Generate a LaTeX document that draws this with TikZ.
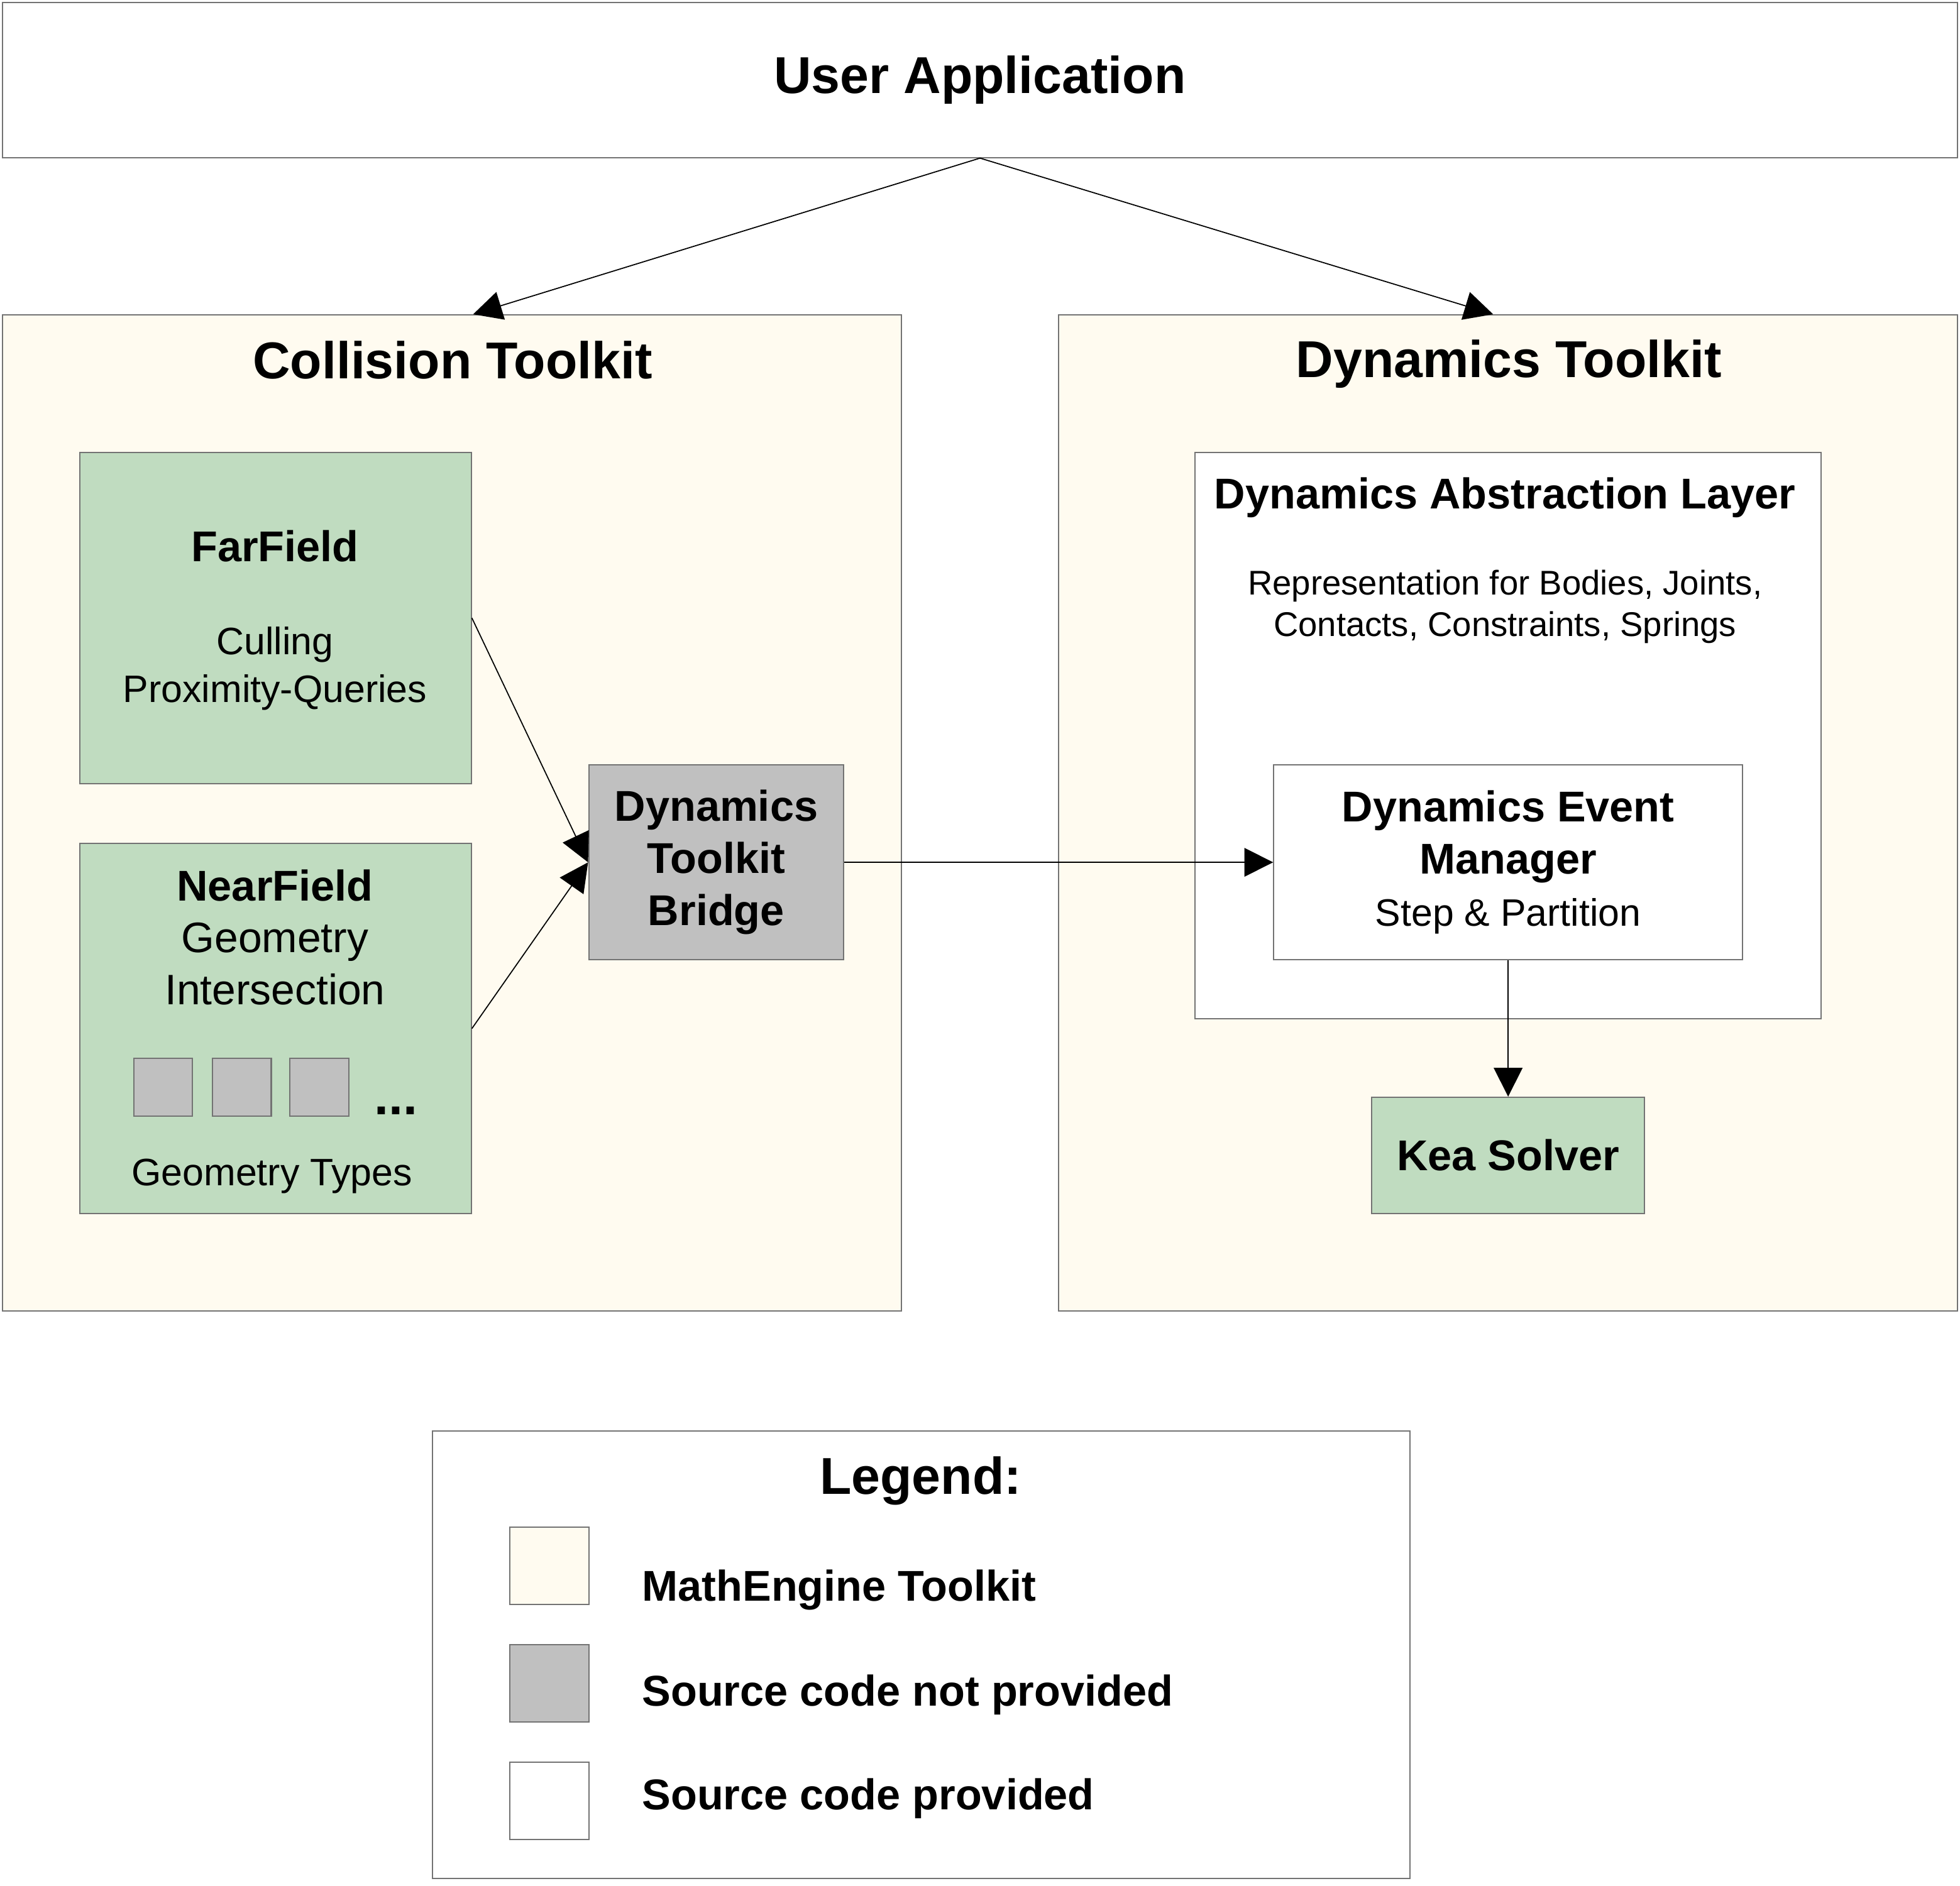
\documentclass[tikz,border=0pt]{standalone}
\usepackage{fontspec}
\setmainfont{Liberation Sans}
\usetikzlibrary{arrows.meta}
\definecolor{kitcream}{HTML}{FFFBF0}
\definecolor{modgreen}{HTML}{C0DCC0}
\definecolor{srcgray}{HTML}{C0C0C0}
\newcommand{\fTitle}{\fontsize{11.8}{14}\selectfont\bfseries}
\newcommand{\fHead}{\fontsize{9.8}{11.9}\selectfont\bfseries}
\newcommand{\fMid}{\normalfont\fontsize{9.7}{11.8}\selectfont}
\newcommand{\fBody}{\normalfont\fontsize{8.7}{10.8}\selectfont}
\newcommand{\fSmall}{\normalfont\fontsize{7.8}{9.4}\selectfont}
\tikzset{
  box/.style={draw=black!55, line width=0.3pt, inner sep=0pt},
  kitbox/.style={box, fill=kitcream},
  greenbox/.style={box, fill=modgreen},
  graybox/.style={box, fill=srcgray},
  whitebox/.style={box, fill=white},
  conn/.style={-{Triangle[length=2.3mm,width=2.3mm]}, line width=0.25pt}
}
\begin{document}
\begin{tikzpicture}
\useasboundingbox (0,0) rectangle (15.68,-15.09);
\node[whitebox, minimum width=15.64cm, minimum height=1.24cm, font=\fTitle] (user) at (7.84,-0.64) {User Application};

\node[kitbox, minimum width=7.19cm, minimum height=7.97cm] (coll) at (3.615,-6.505) {};
\node[font=\fTitle] (collT) at (3.62,-2.88) {Collision Toolkit};
\node[kitbox, minimum width=7.19cm, minimum height=7.97cm] (dyn) at (12.065,-6.505) {};
\node[font=\fTitle] (dynT) at (12.07,-2.91) {Dynamics Toolkit};

\node[greenbox, minimum width=3.13cm, minimum height=2.65cm] (far) at (2.205,-4.945) {};
\node[font=\fHead] (farT) at (2.2,-4.37) {FarField};
\node[font=\fBody, align=center] (farB) at (2.2,-5.35) {Culling\\Proximity-Queries};

\node[greenbox, minimum width=3.13cm, minimum height=2.96cm] (near) at (2.205,-8.23) {};
\node[font=\fMid, align=center] (nearT) at (2.2,-7.5) {{\fHead NearField}\\Geometry\\Intersection};
\foreach \x/\idx in {1.305/1,1.935/2,2.555/3}
  \node[graybox, minimum width=0.47cm, minimum height=0.46cm] (geo\idx) at (\x,-8.70) {};
\node[font=\fTitle, anchor=base west, inner sep=0pt] (geoDots) at (2.99,-8.92) {...};
\node[font=\fBody] (geoT) at (2.175,-9.41) {Geometry Types};

\node[graybox, minimum width=2.04cm, minimum height=1.56cm, font=\fHead, align=center] (bridge) at (5.73,-6.9) {Dynamics\\Toolkit\\Bridge};

\node[whitebox, minimum width=5.01cm, minimum height=4.53cm] (dal) at (12.065,-5.885) {};
\node[font=\fHead] (dalT) at (12.04,-3.98) {Dynamics Abstraction Layer};
\node[font=\fSmall, align=center] (dalB) at (12.04,-4.855) {Representation for Bodies, Joints,\\Contacts, Constraints, Springs};
\node[whitebox, minimum width=3.75cm, minimum height=1.56cm, font=\fHead, align=center] (mgr) at (12.065,-6.9) {Dynamics Event\\Manager\\{\fBody Step \& Partition}};
\node[greenbox, minimum width=2.18cm, minimum height=0.93cm, font=\fHead] (kea) at (12.065,-9.245) {Kea Solver};

\node[whitebox, minimum width=7.82cm, minimum height=3.58cm] (leg) at (7.37,-13.24) {};
\node[font=\fTitle] (legT) at (7.365,-11.85) {Legend:};
\foreach \y/\ty/\col/\lbl/\idx in {12.53/12.72/kitcream/MathEngine Toolkit/1, 13.47/13.56/srcgray/Source code not provided/2, 14.41/14.39/white/Source code provided/3} {
  \node[box, fill=\col, minimum width=0.63cm, minimum height=0.62cm] (sw\idx) at (4.395,-\y) {};
  \node[font=\fHead, anchor=west, inner sep=0pt] (swT\idx) at (5.13,-\ty) {\lbl};
}

\draw[conn] (user.south) -- ([xshift=0.17cm]coll.north);
\draw[conn] (user.south) -- ([xshift=-0.12cm]dyn.north);
\draw[conn] (far.east) -- (bridge.west);
\draw[conn] (near.east) -- (bridge.west);
\draw[conn] (bridge.east) -- (mgr.west);
\draw[conn] (mgr.south) -- (kea.north);
\end{tikzpicture}
\end{document}
